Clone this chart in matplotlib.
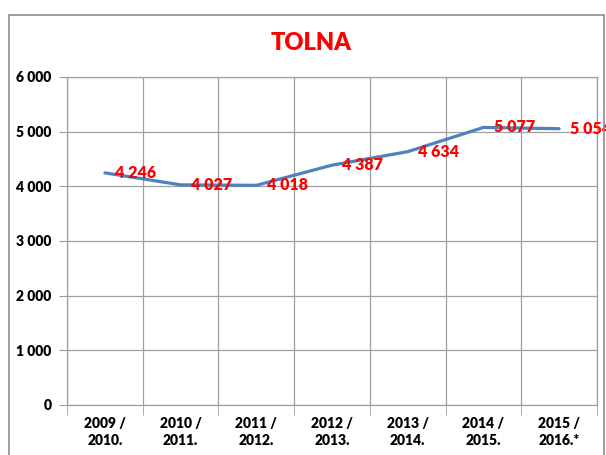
import matplotlib.pyplot as plt
from matplotlib.patches import Rectangle
from matplotlib.ticker import FuncFormatter

# adatok
evek = ['2009 /\n2010.', '2010 /\n2011.', '2011 /\n2012.', '2012 /\n2013.',
        '2013 /\n2014.', '2014 /\n2015.', '2015 /\n2016.*']
letszam = [4246, 4027, 4018, 4387, 4634, 5077, 5054]

plt.rcParams['font.family'] = ['Lato', 'DejaVu Sans']

fig = plt.figure(figsize=(6.06, 4.55), dpi=100)
ax = fig.add_axes([0.1106, 0.1099, 0.8746, 0.7209])

# keret a diagram korul
fig.patches.append(Rectangle((9 / 606, -0.1), 595 / 606, 1.1 - 15 / 455,
                             transform=fig.transFigure, fill=False,
                             edgecolor='#8c8c8c', linewidth=1.2))

x = range(len(letszam))
ax.plot(x, letszam, color='#4f81bd', linewidth=2.3, solid_capstyle='round')

for i, v in zip(x, letszam):
    ax.annotate(f'{v:,}'.replace(',', ' '), (i, v), xytext=(7.5, 0),
                textcoords='offset points', ha='left', va='center',
                color='red', fontsize=11.5, fontweight='heavy',
                annotation_clip=False)

ax.set_xlim(-0.5, len(letszam) - 0.5)
ax.set_ylim(0, 6000)
ax.set_yticks(range(0, 6001, 1000))
ax.yaxis.set_major_formatter(FuncFormatter(lambda v, p: f'{int(v):,}'.replace(',', ' ')))
ax.set_xticks(list(x))
ax.set_xticklabels(evek, linespacing=1.35)
ax.set_xticks([i - 0.5 for i in range(len(letszam) + 1)], minor=True)

ax.tick_params(axis='x', which='major', length=0, pad=9)
ax.tick_params(axis='x', which='minor', length=7, color='#a0a0a0')
ax.tick_params(axis='y', length=6, color='#a0a0a0', pad=5)
for lab in ax.get_xticklabels() + ax.get_yticklabels():
    lab.set_fontweight('heavy')
    lab.set_fontsize(10)

ax.grid(axis='y', color='#a0a0a0', linewidth=0.9)
ax.grid(axis='x', which='minor', color='#a0a0a0', linewidth=0.9)
ax.set_axisbelow(True)
for s in ax.spines.values():
    s.set_color('#a0a0a0')
    s.set_linewidth(0.9)

fig.text(0.513, 0.905, 'TOLNA', color='red', fontsize=17, fontweight='heavy',
         ha='center', va='center')

plt.savefig('out.png', dpi=100)
